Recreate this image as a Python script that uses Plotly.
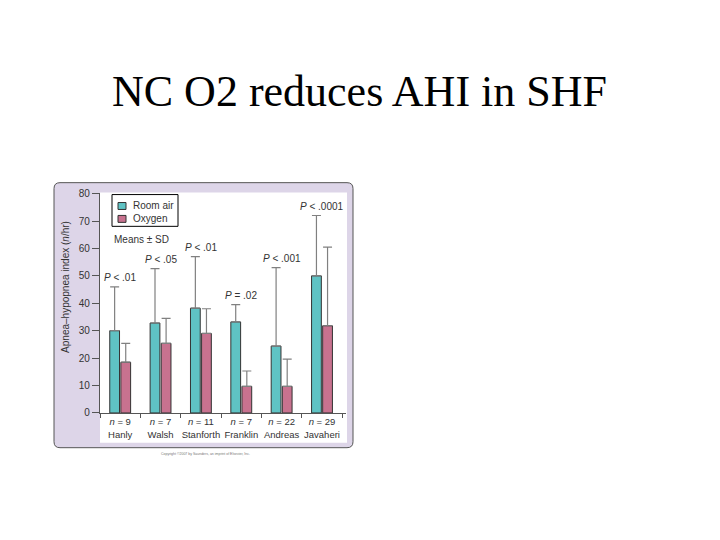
import plotly.graph_objects as go

# values (AHI, events/hr)
studies = ["Hanly", "Walsh", "Stanforth", "Franklin", "Andreas", "Javaheri"]
n_values = [9, 7, 11, 7, 22, 29]
room_air = [30, 32.8, 38.2, 33.2, 24.4, 50]
room_air_sd = [16, 19.8, 18.8, 6.3, 28.6, 22]
oxygen = [18.5, 25.4, 29, 9.7, 9.7, 31.8]
oxygen_sd = [6.9, 9.1, 9, 5.6, 9.9, 28.7]
p_labels = ["< .01", "< .05", "< .01", "= .02", "< .001", "< .0001"]

W, H = 720, 540
# the photographed page comes out ~1% squashed vertically, so the figure is
# made a touch taller; positions below stay fractions of the 720x540 slide
FIG_H = 546
TEAL = "#5fc3c4"
PINK = "#c8728f"
LAVENDER = "#ddd5e8"
TXT = "#333333"
SANS = "Liberation Sans, Arial, sans-serif"

# helpers to go from pixel spots on the slide to paper coords
def px(x):
    return x / W

def py(y):
    return (H - y) / H

tick_text = [f"<i>n</i> = {n}<br>{s}" for n, s in zip(n_values, studies)]

fig = go.Figure()
fig.add_trace(go.Bar(
    x=studies, y=room_air, name="Room air",
    marker=dict(color=TEAL, line=dict(color="#333", width=1)),
    error_y=dict(type="data", array=room_air_sd, arrayminus=[0] * len(studies),
                 symmetric=False, color="#808080", thickness=1.2, width=4.5),
))
fig.add_trace(go.Bar(
    x=studies, y=oxygen, name="Oxygen",
    marker=dict(color=PINK, line=dict(color="#333", width=1)),
    error_y=dict(type="data", array=oxygen_sd, arrayminus=[0] * len(studies),
                 symmetric=False, color="#808080", thickness=1.2, width=4.5),
))

# rounded lavender frame around the embedded figure
x0, x1, y0, y1, r = px(54), px(353), py(447), py(180), 6
rx, ry = r / W, r / H
frame = (f"M {x0+rx},{y0} L {x1-rx},{y0} Q {x1},{y0} {x1},{y0+ry} "
         f"L {x1},{y1-ry} Q {x1},{y1} {x1-rx},{y1} "
         f"L {x0+rx},{y1} Q {x0},{y1} {x0},{y1-ry} "
         f"L {x0},{y0+ry} Q {x0},{y0} {x0+rx},{y0} Z")
shapes = [
    dict(type="path", path=frame, xref="paper", yref="paper", layer="below",
         fillcolor=LAVENDER, line=dict(color="#555", width=1)),
    dict(type="rect", xref="paper", yref="paper", layer="below",
         x0=px(100), x1=px(347), y0=py(442), y1=py(190),
         fillcolor="white", line=dict(width=0)),
    # small legend box drawn by hand (plotly's own legend rows are too tall here)
    dict(type="rect", xref="paper", yref="paper",
         x0=px(112), x1=px(178), y0=py(224), y1=py(192),
         fillcolor="rgba(0,0,0,0)", line=dict(color="black", width=1)),
    dict(type="rect", xref="paper", yref="paper",
         x0=px(118), x1=px(126), y0=py(207), y1=py(200),
         fillcolor=TEAL, line=dict(color="#333", width=1)),
    dict(type="rect", xref="paper", yref="paper",
         x0=px(118), x1=px(126), y0=py(220), y1=py(213),
         fillcolor=PINK, line=dict(color="#333", width=1)),
]

annotations = [
    dict(text="NC O2 reduces AHI in SHF", xref="paper", yref="paper",
         x=px(359), y=py(88), xanchor="center", yanchor="middle", showarrow=False,
         font=dict(family="Liberation Serif, Times New Roman, serif", size=44, color="black")),
    dict(text="Apnea\u2013hypopnea index (<i>n</i>/hr)", xref="paper", yref="paper",
         x=px(66), y=py(285), xanchor="center", yanchor="middle", textangle=-90,
         showarrow=False, font=dict(family=SANS, size=10, color=TXT)),
    dict(text="Room air", xref="paper", yref="paper", x=px(131), y=py(203.5),
         xanchor="left", yanchor="middle", showarrow=False,
         font=dict(family=SANS, size=10, color=TXT)),
    dict(text="Oxygen", xref="paper", yref="paper", x=px(131), y=py(216.5),
         xanchor="left", yanchor="middle", showarrow=False,
         font=dict(family=SANS, size=10, color=TXT)),
    dict(text="Means \u00b1 SD", xref="paper", yref="paper",
         x=px(112), y=py(237), xanchor="left", yanchor="middle", showarrow=False,
         font=dict(family=SANS, size=10, color=TXT)),
    dict(text="Copyright \u00a92007 by Saunders, an imprint of Elsevier, Inc.",
         xref="paper", yref="paper", x=px(205), y=py(453), xanchor="center",
         yanchor="middle", showarrow=False,
         font=dict(family=SANS, size=3.5, color="#777")),
]
for s, ra, sd, p in zip(studies, room_air, room_air_sd, p_labels):
    annotations.append(dict(
        text=f"<i>P</i> {p.replace('<', '&lt;')}", x=s, y=ra + sd, xref="x", yref="y",
        yanchor="bottom", yshift=2, showarrow=False,
        font=dict(family=SANS, size=10, color=TXT)))

fig.update_layout(
    width=W, height=FIG_H,
    margin=dict(l=0, r=0, t=0, b=0),
    paper_bgcolor="white", plot_bgcolor="white",
    barmode="group", bargap=0.45, bargroupgap=0.12,
    shapes=shapes, annotations=annotations,
    showlegend=False,
    xaxis=dict(domain=[px(100), px(346)], tickvals=studies, ticktext=tick_text,
               tickson="boundaries", ticks="outside", ticklen=4, tickcolor="#555",
               tickangle=0, showline=True, linecolor="#555", linewidth=1.2,
               tickfont=dict(family=SANS, size=9.5, color=TXT), showgrid=False),
    yaxis=dict(domain=[py(412), py(190)], range=[0, 80.36], dtick=10,
               ticks="outside", ticklen=7, tickcolor="#555",
               showline=True, linecolor="#555", linewidth=1.2,
               tickfont=dict(family=SANS, size=10, color=TXT), showgrid=False,
               zeroline=False),
)

# page fits the window exactly: no body margin, nothing spilling past the figure
page_fix = ("document.documentElement.style.overflow='hidden';"
            "document.body.style.margin='0';"
            f"document.body.style.height='{FIG_H}px';"
            "document.body.style.overflow='hidden';")
fig.write_html("out.html", config={"displayModeBar": False}, post_script=page_fix)
